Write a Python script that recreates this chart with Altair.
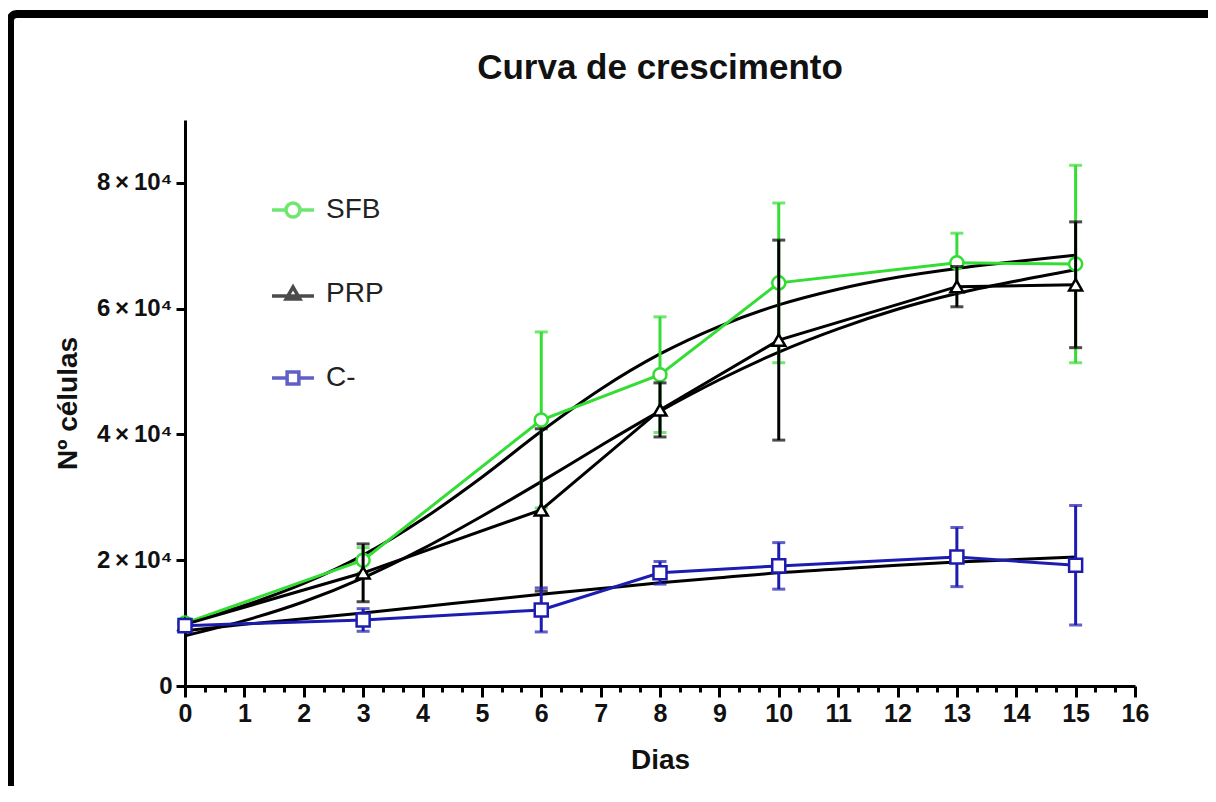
import altair as alt
import pandas as pd

# ---------------- data ----------------
series = ["SFB", "PRP", "C-"]
colors = ["#33dd33", "#000000", "#1c1cb0"]
shapes = ["circle", "triangle-up", "square"]

days = [0, 3, 6, 8, 10, 13, 15]
sfb_mean = [10000, 20000, 42300, 49500, 64100, 67300, 67100]
sfb_sd = [600, 2000, 14000, 9200, 12700, 4700, 15700]
prp_mean = [9800, 18000, 28000, 43900, 55000, 63500, 63800]
prp_sd = [500, 4600, 12900, 4300, 15900, 3200, 10000]
cneg_mean = [9600, 10500, 12100, 18000, 19100, 20500, 19200]
cneg_sd = [400, 1800, 3500, 1800, 3700, 4700, 9500]

# fitted (black) curves, read at each day
fit_days = list(range(16))
fit_sfb = [10000, 12800, 16300, 20800, 26500, 33200, 40500, 47200,
           52800, 57200, 60600, 63100, 65000, 66400, 67500, 68500]
fit_prp = [8000, 10400, 13400, 17200, 21800, 27000, 32500, 38200,
           43700, 48700, 53100, 56800, 59900, 62400, 64400, 66200]
fit_cneg = [8800, 9800, 10700, 11600, 12600, 13600, 14600, 15500,
            16400, 17200, 18000, 18600, 19200, 19700, 20100, 20500]

title_text = "Curva de crescimento"
y_ticks = [0, 20000, 40000, 60000, 80000]
x_ticks = [i / 3 for i in range(49)]

# ---------------- tables ----------------
rows = []
for s, m, sd in zip(series, [sfb_mean, prp_mean, cneg_mean], [sfb_sd, prp_sd, cneg_sd]):
    for d, v, e in zip(days, m, sd):
        rows.append({"Serie": s, "Dia": d, "Valor": v, "lo": v - e, "hi": v + e})
df = pd.DataFrame(rows)

frows = []
for s, f in zip(series, [fit_sfb, fit_prp, fit_cneg]):
    for d, v in zip(fit_days, f):
        frows.append({"Serie": s, "Dia": d, "Valor": v})
fit_df = pd.DataFrame(frows)

# ---------------- scales / axes ----------------
xs = alt.Scale(domain=[0, 16], nice=False, zero=False)
ys = alt.Scale(domain=[0, 90000], nice=False)

x_axis = alt.Axis(
    values=x_ticks,
    labelExpr="datum.value % 1 === 0 ? format(datum.value, 'd') : ''",
    tickSize={"condition": {"test": "datum.value % 1 === 0", "value": 11}, "value": 6},
    labelFlush=False, labelOverlap=False, labelPadding=4, grid=False,
    labelFontSize=25, titleFontSize=28,
    titleX=475, titleY=74, titleBaseline="middle",
)
y_axis = alt.Axis(
    values=y_ticks,
    labelExpr="datum.value === 0 ? '0' : (datum.value / 10000) + '\u2009×\u200910⁴'",
    tickSize=9, labelPadding=4, grid=False,
    labelFontSize=24, titleFontSize=28,
    titleX=-117, titleY=283, titleBaseline="middle", titleAlign="center",
)

def X():
    return alt.X("Dia:Q", scale=xs, axis=x_axis, title="Dias")

def Y(field):
    return alt.Y(f"{field}:Q", scale=ys, axis=y_axis, title="Nº células")

# ---------------- layers ----------------
frame = alt.Chart(pd.DataFrame({"k": [0]})).mark_rect(
    fillOpacity=0, stroke="black", strokeWidth=8, cornerRadius=7
).encode(x=alt.value(-175), x2=alt.value(1150), y=alt.value(-106), y2=alt.value(800))

title = alt.Chart(pd.DataFrame({"t": [title_text]})).mark_text(
    font="Liberation Sans", fontSize=35, fontWeight="bold", color="#111111",
    align="center", baseline="middle"
).encode(text="t:N", x=alt.value(475), y=alt.value(-52))

fits = alt.Chart(fit_df).mark_line(
    color="black", strokeWidth=3, interpolate="monotone"
).encode(x=X(), y=Y("Valor"), detail="Serie:N")

layers = [frame, title, fits]
for s, c, shp in zip(series, colors, shapes):
    base = alt.Chart(df).transform_filter(alt.datum.Serie == s)
    layers.append(base.mark_line(color=c, strokeWidth=3).encode(x=X(), y=Y("Valor")))
    layers.append(base.mark_rule(color=c, strokeWidth=3).encode(x=X(), y=Y("lo"), y2="hi:Q"))
    layers.append(base.mark_tick(color=c, orient="horizontal", size=13, thickness=3).encode(x=X(), y=Y("lo")))
    layers.append(base.mark_tick(color=c, orient="horizontal", size=13, thickness=3).encode(x=X(), y=Y("hi")))
    layers.append(base.mark_point(shape=shp, size=170, filled=True, fill="white",
                                  stroke=c, strokeWidth=2.5, opacity=1).encode(x=X(), y=Y("Valor")))

legend_paths = [
    "M-1,0L-0.333,0M0.333,0L1,0M0.333,0A0.333,0.333,0,1,1,-0.333,0A0.333,0.333,0,1,1,0.333,0",
    "M-1,0.1L1,0.1M-0.33,0.24L0,-0.33L0.33,0.24Z",
    "M-1,0L-0.28,0M0.28,0L1,0M-0.28,-0.28L0.28,-0.28L0.28,0.28L-0.28,0.28Z",
]
leg = alt.Legend(
    title=None, orient="none", legendX=85, legendY=67, direction="vertical",
    symbolSize=1764, symbolStrokeWidth=3.5, labelFontSize=28, labelFont="Liberation Sans",
    labelColor="#222222", rowPadding=47, labelOffset=10, padding=0,
)
legend_layer = alt.Chart(df).transform_filter("false").mark_point(
    filled=False, strokeWidth=3.5
).encode(
    color=alt.Color("Serie:N", scale=alt.Scale(domain=series, range=colors), legend=leg),
    shape=alt.Shape("Serie:N", scale=alt.Scale(domain=series, range=legend_paths), legend=leg),
)
layers.append(legend_layer)

chart = alt.layer(*layers).properties(
    width=950, height=566,
    autosize=alt.AutoSizeParams(type="none"),
    padding={"left": 177, "top": 112, "right": 73, "bottom": 100},
).configure_view(strokeWidth=0).configure_axis(
    domainColor="black", domainWidth=3, tickColor="black", tickWidth=3,
    labelFont="Liberation Sans", labelFontWeight="bold", labelColor="#111111",
    titleFont="Liberation Sans", titleFontWeight="bold", titleColor="#111111",
)

chart.save("out.html", embed_options={"renderer": "svg", "actions": False})
